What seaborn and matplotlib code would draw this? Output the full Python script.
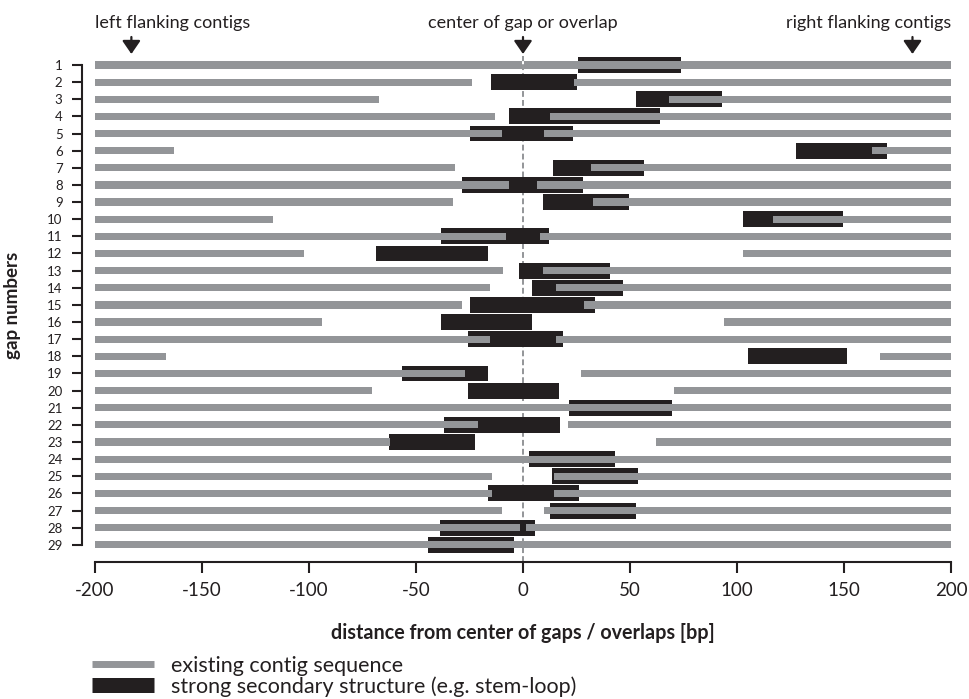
import matplotlib
matplotlib.use("Agg")
import numpy as np
import pandas as pd
import seaborn as sns
import matplotlib.pyplot as plt
from matplotlib.lines import Line2D

# ---------------- data ----------------
gap_numbers = list(range(1, 30))
# end of the left flanking contig (bp from centre)
left_contig_end = [-0.7, -24, -67.5, -13, -10, -163, -32, -6.5, -32.5, -117,
                   -8, -102.5, -9.3, -15.4, -28.5, -94, -15.4, -167, -27, -70.6,
                   3, -21, -62, 3, -14.5, -14.7, -10, -1.4, 3]
# start of the right flanking contig (bp from centre)
right_contig_start = [0.6, 24, 68, 12.8, 10, 163, 32, 6.5, 32.5, 117,
                      8, 102.7, 9.3, 15.4, 28.5, 94, 15.4, 167, 27, 70.6,
                      -3, 21, 62, -3, 14.5, 14.7, 10, 1.4, -3]
# strong secondary structure (start, end)
struct_start = [25.7, -15, 52.8, -6.5, -24.8, 127.6, 14, -28.5, 9.3, 103,
                -38.3, -68.7, -1.9, 4.2, -24.8, -38.3, -25.7, 105, -56.5, -25.7,
                21.5, -36.9, -62.6, 2.8, 13.6, -16.4, 12.6, -38.8, -44.4]
struct_end = [73.8, 25, 93, 64, 23.4, 170, 56.5, 28, 49.5, 149.5,
              12.1, -16.4, 40.6, 46.7, 33.6, 4.2, 18.7, 151.4, -16.4, 16.8,
              69.6, 17.3, -22.4, 43, 53.7, 26.2, 52.8, 5.6, -4.2]
x_ticks = [-200, -150, -100, -50, 0, 50, 100, 150, 200]
x_tick_labels = ["-200", "-150", "-100", "-50", "0", "50", "100", "150", "200"]
seq_min, seq_max = -200, 200

df = pd.DataFrame({"gap": gap_numbers, "left_end": left_contig_end,
                   "right_start": right_contig_start,
                   "s_start": struct_start, "s_end": struct_end})

# ---------------- style ----------------
sns.set_theme(style="ticks")
plt.rcParams["font.family"] = ["Lato", "DejaVu Sans"]
GRAY = "#939598"
BLACK = "#231f20"
plt.rcParams["text.color"] = BLACK
plt.rcParams["axes.labelcolor"] = BLACK
plt.rcParams["xtick.color"] = BLACK
plt.rcParams["ytick.color"] = BLACK

W, H = 970, 699
fig = plt.figure(figsize=(W / 100, H / 100), dpi=100)
ax_left, ax_right, ax_top, ax_bottom = 82, 951, 56.4, 562
ax = fig.add_axes([ax_left / W, (H - ax_bottom) / H,
                   (ax_right - ax_left) / W, (ax_bottom - ax_top) / H])

# dashed centre line
ax.axvline(0, color=GRAY, lw=1.4, ls=(0, (3.0, 1.6)), zorder=1)

# secondary structure (black, behind)
ax.barh(df["gap"], df["s_end"] - df["s_start"], left=df["s_start"],
        height=0.93, color=BLACK, linewidth=0, zorder=2)
# contigs (gray, on top)
ax.barh(df["gap"], df["left_end"] - seq_min, left=seq_min,
        height=0.42, color=GRAY, linewidth=0, zorder=3)
ax.barh(df["gap"], seq_max - df["right_start"], left=df["right_start"],
        height=0.42, color=GRAY, linewidth=0, zorder=3)

# axes
ax.set_xlim(seq_min - (95 - ax_left) / 2.14, seq_max)
ax.set_ylim(30, 0.5)
sns.despine(ax=ax)
for s in ("left", "bottom"):
    ax.spines[s].set_linewidth(1.5)
    ax.spines[s].set_color(BLACK)
ax.spines["left"].set_bounds(1, 29)
ax.spines["bottom"].set_bounds(seq_min, seq_max)

ax.set_yticks(gap_numbers)
ax.set_yticklabels([str(g) for g in gap_numbers])
ax.set_xticks(x_ticks)
ax.set_xticklabels(x_tick_labels)
ax.tick_params(axis="y", length=7.5, width=1.5, pad=6.5, labelsize=9.5, direction="out")
ax.tick_params(axis="x", length=8, width=1.5, pad=6.5, labelsize=13.5, direction="out")
ax.grid(False)
ax.set_facecolor("white")

ax.set_xlabel("distance from center of gaps / overlaps [bp]", fontsize=14.2,
              fontweight="bold")
ax.xaxis.set_label_coords(0.5 + (523 - (ax_left + ax_right) / 2) / (ax_right - ax_left),
                          (ax_bottom - 633) / (ax_bottom - ax_top))
ax.xaxis.label.set_va("center")
ax.set_ylabel("gap numbers", fontsize=13.5, fontweight="bold")
ax.yaxis.set_label_coords((13 - ax_left) / (ax_right - ax_left),
                          (ax_bottom - 305) / (ax_bottom - ax_top))
ax.yaxis.label.set_va("center")

# header annotations with arrows
trans = ax.get_xaxis_transform()
def yfrac(py):
    return (ax_bottom - py) / (ax_bottom - ax_top)

arrow_kw = dict(arrowstyle="-|>,head_length=0.8,head_width=0.55", color=BLACK,
                lw=1.6, shrinkA=0, shrinkB=0, mutation_scale=10)
for xpos in (-183, 0, 182):
    ax.annotate("", xy=(xpos, yfrac(54)), xycoords=trans,
                xytext=(xpos, yfrac(37)), textcoords=trans,
                arrowprops=arrow_kw, annotation_clip=False)
ax.text(seq_min, yfrac(28), "left flanking contigs", transform=trans,
        ha="left", va="baseline", fontsize=13)
ax.text(0, yfrac(28), "center of gap or overlap", transform=trans,
        ha="center", va="baseline", fontsize=13)
ax.text(seq_max, yfrac(28), "right flanking contigs", transform=trans,
        ha="right", va="baseline", fontsize=13)

# legend
handles = [Line2D([], [], color=GRAY, lw=5.0, solid_capstyle="butt"),
           Line2D([], [], color=BLACK, lw=10.8, solid_capstyle="butt")]
labels = ["existing contig sequence", "strong secondary structure (e.g. stem-loop)"]
fs_leg = 15.5
fs_px = fs_leg * 100 / 72
fig.legend(handles, labels, loc="upper left",
           bbox_to_anchor=(92 / W, (H - 656) / H), bbox_transform=fig.transFigure,
           frameon=False, fontsize=fs_leg, handlelength=62 / fs_px,
           handletextpad=17 / fs_px, labelspacing=0.0, borderpad=0, borderaxespad=0)

fig.savefig("out.png", dpi=100, facecolor="white")
